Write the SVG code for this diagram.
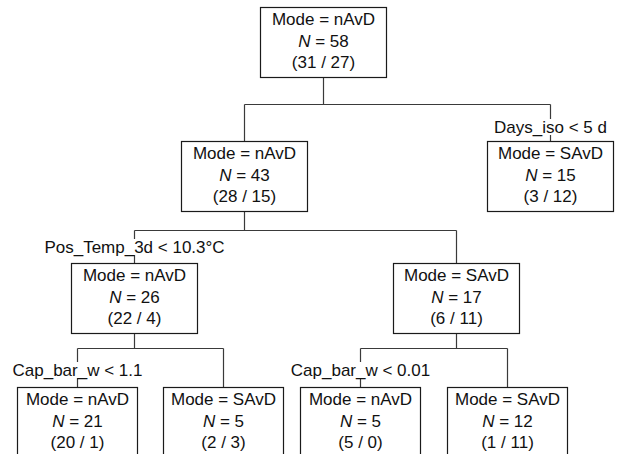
<svg xmlns="http://www.w3.org/2000/svg" width="617" height="454" viewBox="0 0 617 454">
<style>
.box{fill:#fff;stroke:#1a1a1a;stroke-width:1.2}
.ln{fill:none;stroke:#3a3a3a;stroke-width:1.2}
text{font-family:"Liberation Sans",Arial,sans-serif;font-size:17px;fill:#111;text-anchor:middle}
.lbl{fill:#fff;stroke:none}
</style>
<rect width="617" height="454" fill="#fff"/>
<g id="connectors">
<path class="ln" d="M323.5 77.5V104.5M244.5 104.5H550.5M244.5 104.5V141.5M550.5 104.5V141.5"/>
<path class="ln" d="M244.5 211.5V230.5M134.5 230.5H456.5M134.5 230.5V263.5M456.5 230.5V263.5"/>
<path class="ln" d="M134.5 333.5V348.5M77.5 348.5H223.5M77.5 348.5V387.5M223.5 348.5V387.5"/>
<path class="ln" d="M456.5 333.5V348.5M360.5 348.5H507.5M360.5 348.5V387.5M507.5 348.5V387.5"/>
<rect class="lbl" x="490" y="119" width="122" height="16"/>
<text x="550.5" y="133">Days_iso &lt; 5 d</text>
<rect class="lbl" x="40" y="239" width="190" height="16"/>
<text x="134.5" y="253">Pos_Temp_3d &lt; 10.3°C</text>
<rect class="lbl" x="10" y="362" width="135" height="16"/>
<text x="77.5" y="376">Cap_bar_w &lt; 1.1</text>
<rect class="lbl" x="288" y="362" width="145" height="16"/>
<text x="360.5" y="376">Cap_bar_w &lt; 0.01</text>
</g>
<g id="n1">
<rect class="box" x="260.5" y="7.5" width="126" height="70"/>
<text x="323.5" y="25">Mode = nAvD</text>
<text x="323.5" y="47"><tspan font-style="italic">N</tspan> = 58</text>
<text x="323.5" y="68">(31 / 27)</text>
</g>
<g id="n2">
<rect class="box" x="181.5" y="141.5" width="126" height="70"/>
<text x="244.5" y="159">Mode = nAvD</text>
<text x="244.5" y="181"><tspan font-style="italic">N</tspan> = 43</text>
<text x="244.5" y="202">(28 / 15)</text>
</g>
<g id="n3">
<rect class="box" x="487.5" y="141.5" width="126" height="70"/>
<text x="550.5" y="159">Mode = SAvD</text>
<text x="550.5" y="181"><tspan font-style="italic">N</tspan> = 15</text>
<text x="550.5" y="202">(3 / 12)</text>
</g>
<g id="n4">
<rect class="box" x="71.5" y="263.5" width="126" height="70"/>
<text x="134.5" y="281">Mode = nAvD</text>
<text x="134.5" y="303"><tspan font-style="italic">N</tspan> = 26</text>
<text x="134.5" y="324">(22 / 4)</text>
</g>
<g id="n5">
<rect class="box" x="393.5" y="263.5" width="126" height="70"/>
<text x="456.5" y="281">Mode = SAvD</text>
<text x="456.5" y="303"><tspan font-style="italic">N</tspan> = 17</text>
<text x="456.5" y="324">(6 / 11)</text>
</g>
<g id="n6">
<rect class="box" x="17.5" y="387.5" width="120" height="70"/>
<text x="77.5" y="405">Mode = nAvD</text>
<text x="77.5" y="427"><tspan font-style="italic">N</tspan> = 21</text>
<text x="77.5" y="448">(20 / 1)</text>
</g>
<g id="n7">
<rect class="box" x="163.5" y="387.5" width="120" height="70"/>
<text x="223.5" y="405">Mode = SAvD</text>
<text x="223.5" y="427"><tspan font-style="italic">N</tspan> = 5</text>
<text x="223.5" y="448">(2 / 3)</text>
</g>
<g id="n8">
<rect class="box" x="300.5" y="387.5" width="120" height="70"/>
<text x="360.5" y="405">Mode = nAvD</text>
<text x="360.5" y="427"><tspan font-style="italic">N</tspan> = 5</text>
<text x="360.5" y="448">(5 / 0)</text>
</g>
<g id="n9">
<rect class="box" x="447.5" y="387.5" width="120" height="70"/>
<text x="507.5" y="405">Mode = SAvD</text>
<text x="507.5" y="427"><tspan font-style="italic">N</tspan> = 12</text>
<text x="507.5" y="448">(1 / 11)</text>
</g>
</svg>
